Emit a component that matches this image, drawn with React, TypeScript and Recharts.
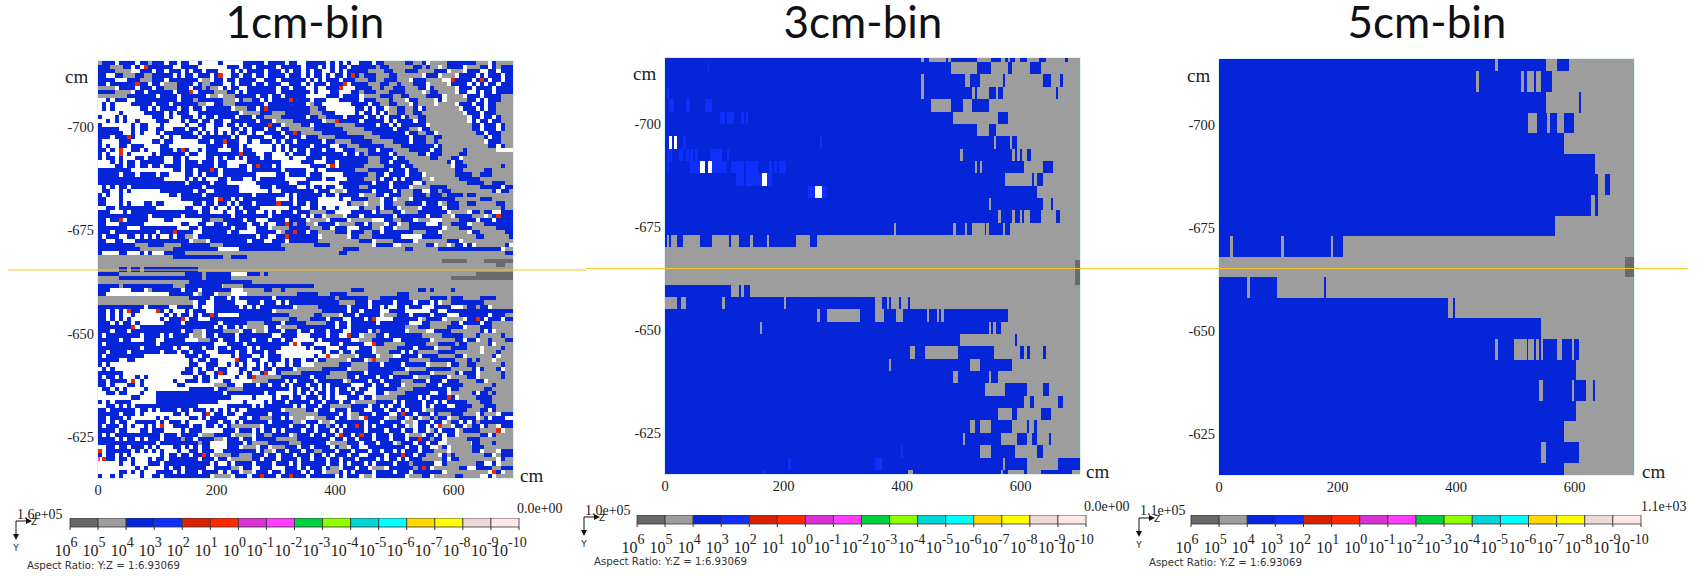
import { Bar, BarChart, ReferenceArea, Scatter, ScatterChart, XAxis, YAxis } from 'recharts';

// colours of the dose scale
const BLUE = '#0625d8';
const BRIGHT = '#0f30fa';
const GRAY = '#9c9d9c';
const DARK = '#6b6b6b';
const RED = '#e82c00';
const MAGENTA = '#ff3cff';
const WHITE = '#ffffff';

const xTicks = [0, 200, 400, 600];
const yTicks = [-700, -675, -650, -625];
const xDomain = [0, 700];
const yDomain = [-716, -615];

const bandColors = ['#686868', '#9c9d9c', '#0625d8', '#0f30fa', '#d92300', '#ff2a00', '#d933d6', '#ff3cff', '#00d040', '#90ff00', '#00d6d6', '#00ffff', '#ffd800', '#ffff00', '#eed9d9', '#ffe8e8'];
const bandExponents = [6, 5, 4, 3, 2, 1, 0, -1, -2, -3, -4, -5, -6, -7, -8, -9, -10];

// 1cm-bin: one string per cm row, one char per 7 cm column (. empty, b blue, g gray, d dark)
const grid1cm = [
  'gbbb.bbbb.bbgbbb.bb.bb..b....b.....bbbbb.bbbb.bb..bbbbb.b.b.b..bbb.bbgggggbbggb.ggggbbbbbbbggg.bggg',
  'bbbgggbb.b.bbbbbbb..bbbb.......bbb.bb.bbbbb.bbbbb.bbb.b.b.bb.bbbbbbgbbggggggbbgbgg.gbbbb.gggbb.bgbb',
  'bbbbgggg..bbb.bb.bbb.b.bb.bbb...b.b.bbbb.bbb.b.bb.b.bb..b.b.bbbbbggggbbgggbbbggggbbb.ggg.bbb..bb.bb',
  'bb..bbgggbbggbbbbb.b.bb.bbb.bb..bb.bb.bb.bbbb.bbb.b.bb.b.bb.bbbgbbbgggbbgggggg.bbb.ggg.bbbb.b.bbb.b',
  'bbbb...bbbgggbbb.bbbbbbb.gg.bb.bb.bbbb..bbb.bbbbbb.b.b.bbb.bbbgggbbggbbbggg.bbbgggg..bbbbb.bbb.bb.b',
  'bb.bbbbbbbbb.bb.gggbbbb.bggbbb..b.bbb.bb.bbb..bbb.b.bbb.bbbb.bbbbgggbbggbgggbbb.gggg.bbbb.b.b.bb.bb',
  'gggg.bbbb.bbb.bbgggbbb.bbgbgg.b.bb..bbbbbbb.bb.bbb..b..bbbb...bbbbggbggbbbgggbb.bggggg.bbb.bbbb.bbb',
  'bbbbgggg.bb.bbbbbb.bbbb.bbbbgggbb.b.bbbbbbb.bbbbbbb.b...bb...bbgbbbgggbbbbgggg.gbbgggg.bb..b.bb.bbb',
  'gggggggbbbbbbb.bbbb.bbbbbb.gg.gggbbbbb.bb.bb.bbbbb.....bbb.bbbb.ggggbbbggbbggggbbbb.gggg.bbb.bbbbgg',
  '..b.bbb..bbbbbbbbbb.bbbgbbbbbbggg.bggbb.b.bbbbbbbbb.bbb...bbbbb.bbbgggbggg.bbgggg.b.gggggbb.b.bbbgg',
  '.b.b....bbbbb.bbb.bbbbbbgg..bbgggbbbbbbb.bbbbbbbbb.gbb.......bbbb.bbggbbggg.bgggg.gggg.bbb.bb.bbggg',
  '.b.b......bb.b.bbbb.bb.bb.bbbbbb.gggbb.bbbbbbbbbbbbggbb.......bb.b.bb.ggbbggb.bgggggggg.bbb.b.bbggg',
  '.....b.....bbbbb.b.bbb..bbbbbbbbbb.ggggbbbgggbbbbbbgggbbb.....b.bb.b.bggbbggbbgggggggggg.bbb.bbbggg',
  'b...b.b......bbb.b..bbb.b.bb.bbbb.bbb.bbggggbbbbbb.bbggbbbb.bbbb.bb.b.bbb.bggbbgggggggggg.bb.bb.bgg',
  '..b.b.b..b....bbb...b.bb.bb.bb..bbbbbb.bbb.ggggbbbbbbb.gggbbbbb.bbbbb.b.bbbb.bbgggggggggg.b.bb.bbgg',
  'b.......b.bb...b.....b..bb..bb.bb.b.bbbbbbbb.ggggbb.bbbbbgggggbbbbb.bb.b.bbbbbb.ggggggggggbb.bbb.bg',
  'bbbbb...b.bb..bb..bbb.bb.b..b...bb.b.bbb.bb.bbggggggbbbbbbbgggggbbbbbbb.bbbgg.bbggggggggggbb.bbb.bg',
  'bbbbbb..b.b...b.bbbbbbb.b.b.b.b.b.bb.b..bbbb.bbbbgggggbbbbbbggggggbbbbbbbb.bbggbb.gggggggggbb.bbbgg',
  'bbb.bbb.b......b.b..bbbb.bbbbbbb.b..bbbb..bbb.bbb.bbbggggbbbbbbbggggbbbbbbb.bbbggbbggggggggggb.bbgg',
  'b....bbb.....bb.bb......bbb.bbbbbb..b..bbb.b.bb.bbbbbb.bbggggbbbbbgggggbbbb.bbbggbggggggggggg.bbbgg',
  'b.b..bb.bbb....bb.........bbbb.bbb.b......b.b.bbbbb.bbbb..bbgggbbbbbbggggbbbbbbbb.bgggggggggggbb.bg',
  'bb.b.b..bb.b...bbb.bbb..b.bbb...bb.bb.....b.b.b.bb.bbb.bb..bbbgggbb.bbbggggbbbbb.bbgggggbggggggg...',
  'b.b..b.b.....b.bbbbbb.bb..bbbbbbbbbbbb..bb...b.bbb.bbbbbbbb.bb.bgbbbbb.bgggggbb.bbbggggbbgggggggggg',
  'b.bb.b...bb.bbbb..bb.b....bb.b.bb.b.bbb.bb....b...bbbb.bbbbbbbbbbgggbbb.bbggggggbbgggbb.gggggggggggg',
  '...b.b.bb.bbbbbb..bb.bbb.bbb.bb.....bbbbbbbb.....bbb...bb.bbbbbbbgggbb.bbbbgggggggggb.bbgggggggggggg',
  '....bb.bb.bb.bb.bbbb.bbbbbbb.bb...bb.b.bbb.b.......bbbb...bbbbbbgggggbbbb.bbggggggggg.bbbggggggggbgg',
  'bbbbbbbb..........bb.bb.bbb.b.bbbbbb.bbbbbbb.bbbbb..b..bbbbbbbgggbbbbb.bbb.bbgggggggggbbgggggbbggggg',
  'bbbbb.bbb.bbbb.bb....bb.b.bbb.bbbbbbbb.....bb.bbbb.bbb.....bbbbbbggbb.bbbb.bbb.gggggggbbbbggbbbgggg',
  'bbbbbbbbbbbbbbbb.....b.b.b...bb.bbb..b.bbbbbb.....bbbb.bb...bbbbgggb.bb.b.bbbbgg.ggggggbbbbbgggggggg',
  'bbbbbbbbbbbbbbbbbbbbb.bbbbb.bbb.......bbbbbbbb..bbb.......bbbbbbbb.bbb.bbbbb..bggggggggggbbbbggbbbgg',
  '.b.b.bb.bbbbbbbbbbbbbbbbb.bbbbbbbb.....bbb.bbbbb..b.bb.bb..bbbbggbbbbb.bbbb.ggggbbbbggggggggbbbbb.bb',
  '.bb..b.b.......bbbbbbbb.bb..bbbbbb.......b..bbbbbbbb.bbb.gg.bbbbbb.bbbb.bgggbb..bbgbbggggggggggb.bbg',
  'b.b..b...........bb.bbbbb.bbbbbbbbbbb.bbbbbbb.b.bbbbbb.bb.bbbbb.gggbb.bbbgggbbbgbbbgbbbbgbbgggggggg',
  'bb...b..............bbbbbbbb.bbb.b.bbbbbbbb...b.bbbbb.....b..bbbbggg.bb.ggg.bbbbbbbbbbggggggbbbgggg',
  'bb...b.b...bb.bb.......bb.bb.bb.b.bbb.bbbbbbbbb.bb.bb.......bggg.ggg.bbgggbbbb.bbb.gbbbggbbgggggbbg',
  '..bb.bbbbbbbbb.......bb..bb.b..b.b.bbbb.......bbb..bb.b..b.....bgggb.bbb.gggg.bbbbb.bbbggggggggggbg',
  'bbb...b.bbbbbbbbbbbbbbbb.bb...b..bb.bb..b.b.bbb.bbbggggbb....bbbbb.bgggbb.gggbbbbbbb.gggg.bbgbb..bb',
  'bbbbbbbbbbbb.bbbbbbb.bbbbbbbbbbb.bbbbbbbb.bbbbbbb.b.bb.gggg.bbb.bbbbbbb.bbbbbbb.bbbgg.bbbbggg.gb.bb',
  'bb.bbb.bbbbb....bb.......bbgggbbbbb.bb...bbbb.bbbb.gggg.bbbb.ggggg...bbggbbb.ggg...ggggbbbb.bbb.bbbb',
  'bb...bbbbbb.........bb..bb..bb.bbbbb.bb.b..bbbbgbbgg.bbbb.ggggbb.bggg.bb.ggbbbb...bggbbbb.gggbbbbbbb',
  'bbbbbbb...bbbbbbbbb...bb.bbbbbbb.bbb..bbb.ggggbbbbbgggbb.bbb...bbbgg.bb.gggbbbbbbbb.gggbbbggggggbbbb',
  'bbb.bbbbbbbbbb.bbbbbbbb..bbbbbb.bb....bbbbb.gbbbbb.bbggggbbb.bbbggbb.bbbbbbbgggbbb.gggggg.bbggggggbbb',
  'b.bbb..bb.b.b.b..b.bbgg.bbbbbbbbbbbbbb.bb..bb.bbbbbbb.gggggg.bbgggbbbbbbb.....bbbbbggggggggbbggggggbb',
  'bb..bb...bbbbbbbbbbbbb.ggg.bbbbbbbbb.bbb..bbb.bbbbbbbggggggggggbbb.ggggbbbbb.gggggggbbb.gggggggggggg',
  'bbbbbbbbbgggbbbbggggbbbbbbbgggbbbbbbbbbbbbbbggggggggbbbbgggggggggg.bbbb..ggggggbb.gg.gbb.b.gggggggb.',
  'bbbbbbbbbbggggggggbbbbbbbbbbb.....bbbbbbbbbbbggggggggggggggbbbbgggggggggggbbggggggbbbbbbbbbbbbbbb.gg',
  'b....bb...b.b...bbbbbgggggggggggggggggggggggggggggggggggggbbggggggggggggggggggggggggggggggggggggggbb',
  'ggggggggggggggggggbbbbbbbbbbbbggbbbbgggggggggggggggggggggggggggggggggggggggggggggggggggggggggggggggg',
  'gggggggggggggggggggggggggggggggggggggggggggggggggggggggggggggggggggggggggggggggggggddddddggggddddddd',
  'ggggggggggggggggggggggggggggggggggggggggggggggggggggggggggggggggggggggggggggggggggggggggggggggggddgg',
  'gggggbbgbbgbbbbbbbbbbbbbgggggggggggggggggggggggggggggggggggggggggggggggggggggggggggggggggggggggggggg',
  'bbbbbggggggggggggggggbbbbgbbbbbb....bbbgbggggggggggggggggggggggggggggggggggggggggggggggggggdddddddd',
  'gggggbbbbbbbbbbbbbbbbbbbbgbbbbbbgggggggggggggggggggggggggggggggggggggggggggggggggggggdddddddddddddddd',
  'ggggggggggggggggggggggbbbbbbbbbbbbbbbggggggggggggggggggggggggggggggggggggggggggggggggggggggggggggggg',
  'bbbbbgbbbbbbbbbbbbgggbbbbbbbbbgggggbbbbbbbbbbbbbbbbbggggggggggggggggggggggggggggggggggggggggggggggg',
  'bbb.....bbb.gbbbbbbb.bbb.bbbbbbb...gggggbbggbggggggggggggggggbbbgggggggggggggbbgbggggbggggggggggggg',
  'bb...............bbbbbb.gbbb.ggg....ggggggggggggbbbbbgggbbbbggggggggggggbbbgggggggggggggggggggggggg',
  'ggggggggggggggggggggggbbbbb.bbb.b.bbbbbbbb.bbbbbbbbbbbbbbgbbbbbbbgggbbbbbbbgggggbbbbgbbbggggbbbbgggg',
  'ggggggggggggggggggggggg.bb..bbbbb...bbb.bbb.b.bbbbbbbbbbbbggggbbb.bbbbb.bbbb.bbb.b.ggbbbbbbbbgggggg',
  'bbbbbbbbbbb.bbbbb..bbbb.b...bbbbbb.b.b.bbbbbbbb.gggggbbbbbbb.bbbb.bb.b..bb.bbb...bbbb...gbbgbb.gggg',
  'bb.b.b..bb.....b.b...b.bbb..bbbbbbbbbbbbbb.gggggggggggbbbbbb.bb.bbbb..bbbb......bb..bbbbbbbbbbbbbbb',
  'bb.b.b..b.......b.b.bb.b.bbbb.....bbbbbbbbbbbbggggggbbgggg.bbb.bbbbb.gggbbb.bbbb.bbb...bbbbbbb.bbbg',
  'bb.b.b.b.......b.bbbb.bb...bbbbbbbbbbbbbbbggggbbgggbbbb.bbb..bbb.bb....bbbbbb.gbbbb.gggg.bbbb.bbb.bb',
  'bbb.b.bb.b......bbbb.bbbbbbbb.bbbbbbggggbbbb.bbbbbgggggbb.bb.bbbbbb.bbbbbbb...bbgggggbb.bbbb.bbgggg',
  'bbbbbbbbb.bbbbbbbbbbbbbbbbbb.b.bb.b.gggg.bb.ggggbbbbbbbbb.bb.bbbbbbbbbbbbbgggbbbggggbbbb.gggbbbgggg',
  'bbb.bbb.bbbbbbbbbbbb.bbgg.bbbbgggg.bb.gg.bbb.bbb.bb.bbb.bbb..bbbb.bgbbbbbb.gggg..bbbbgggggggb.b.ggg',
  'b.bbbbbbbb.bbbb.b.bbbb.gg.bb.bbbb.bbbbbbbb..bbbb...bbbb.bb...bb.gggbb.bbbbbbbbgggggbbbbbgggbgggggbg',
  'bbbbb.bb...bbb..bbbbb...gggbb.bbb.bbb.bbb.bb.bb.....b.bbbbbbb..gggbbbbb..bbbbbbb.gggggbb.bb.ggbgggb',
  'b.bbbbbbbbbbbb.bbbbbbbbbbbbb...bbbb.bbbbbbbbbb...bbb....bb.bbbbb...bbgggggbbbbbgggbbbbgbbgggggb.ggg',
  'bbbbbbbbbb.bbbbbbb.b..bbb.bb.bb.bbbb.b.bbbbb......b.bbb...bb...bbb.gggggbbbb.bbbb.gggbbbbggg.ggggbgg',
  'bb.bbbb.bbbbbbb.bbb.bb.bbb...bbbb.bb.bbb.bb...........b.bb.bb.bbbb.gggbbb.b.bgggggbbbbgggggg.gggbggg',
  'b.bbbbbbbbb..........bbb.bb.....b.bbb..b.bbb........b.....gggg.bbbb.ggg..bbbb.bbbbggggbb.ggggggb.ggg',
  'bbbbb..bb.............b.bb.bb....bbb.bb..bbb.b.bb.bb.bbggggg.bbb.gggggbbbbbgggggbbbbbbgggbgbggg.gggg',
  'b.b...................bb..bbb..b.b.b..b.b.b..b.bb...ggggggbbbggggbbb.bbbb.bbbbb.gggg.bbggbbggggggbgg',
  '.b.b.................bb.b.bb.bb...bb.bb.bb.bbbb.ggggggbbbbbb.ggggbbbbbbbbb.ggggbbbbbbgggggb.bgggb.gg',
  'bbbbbb..............bbb.bb..b.b...b.b..bb..bgggggbbbbbbbggggbbbb.bbbbbbggggbbbbb.gggggb.bbb.gggggbgg',
  'b.bb.b...b.b...........b.bb.b....b..b.ggggggbbbbbbb.bbbgggggbb.bbbb.bb.bbbbb.gggbbbb.ggggbb.gggggbg',
  'bb.bbbb.b.b.......b..bbb.bb...bb.....ggggbbbb.b.bbbb.bbbbbb.gbbbb.bb.bbbbgggbbb.bbb.bbbggggbb.ggggg',
  'bb.b...bb.b........bb.......gggbb..bbb.bb.bb.b.bbb.bb.b.bbbbb...bb.bb.bbb.gggggbbb.bbbbbgggggggbggg',
  '.bb.b.b....b..........bbbbbb.bbggggbbbbbbbbbbb.b.bb.b.b.b.bb.b.bb..bbbbbggggbbbbbbbb.bbggggggbbggg',
  '..bb.bb...b...bbbbbbbbbbbbbbbb.bbbbbbbbb.bb....b.b.b.bb.b.bbb.bb...bb.ggggbbbbbb..bb.gggggb.bbgbggg',
  '........bb....bbbbbbbbbbbbbbbbbb.....b....b.bb.bb.bbb.b.b...bbb.bb.gggggbbbbb.b.bbbb.b.ggggbbbbgggg',
  'b.b.bbbb......bbbbbbbbbbbbbbb......b....b.bbb.bbbbb.bb.bbb.bb.gggggbbbb.b.bbbb.bb.b.bbbbbgggbbbggg',
  '..bb.b.b.bbbbbbbbbbbbbbb.......bbbbbb.b.bbbbbbb.b.bbb.bbgggggbbbb.bb.b.bb.bbbb.b.bbb..bbbbgggbbbggg',
  'bb.bbbbbb.bb.b.bbbb.bb.bbb.b.b.b.b..bbbbbbbb.gggggbb.bbb.bbb.bbb..bbb.bb.b.bbb.ggbbbbbbbbgggbb.bgg',
  'bbbbb.bbb.b.......bb.b...bb.bb.bb..bbbbbb.bbbbgggggggbbbbb.b.ggbbb.bbb..b.bb.bbb.bgggbbbggg.bggg.bb',
  'bb.bbb.b......b.b.....bb.b.bbbb...bb.bbgggbb.b.ggg..gggbb.bb.gg.bbbbb.ggbb.gb.ggbgbb.ggbbbb.gb.bbb.',
  'bb.b.bb..bbbbb.b.bbb.b....bbb.bb.b.bbbbbb.bbbbbgg.bbb.gg.bbbbbbb.bbb.bbbb.gg.bbb.bb.gbb.b.bgbbbbbb',
  'b.bbb.b.b..b.b.b..bbbb.bb.bb.b.bggggggg.bbbbbb.bbb.b.bbgb.b.bbbb.b.bbbb.bb.g.bb.b.bgg.bb.gbb.bgg.bb',
  'bbbb.bb...bb.bbb....b.bbb.....bbb.bbb.b.bb.b.bbbb.bb.bbb.b.bbbbb.bbbb.bbb.bb.bb.gb.bbb.gbbbbggggb.g',
  'b.b.bbbbbbbbbbb.bbb.bbbb.gggbbbb.gggg.bbggbbbb.gbbb.bb.bb.bbb.bbbb.bbb.bbb.ggg.bb.b.bb.gggggbb.bggg',
  'bbbb.b.bb.b.bbb.bbbbgbb.bbbbgg.bbb.bb.bbbbbgggggbbbbbbbb.bb.bb.bbb.bbb.bbb.bb.bbgbb.gggggbbbgggggg',
  'bbbbbbbbbbbbbb.bbbbbbbbbgbb....bbbb.bggggbbbbbgggbbbbbb.ggggbbb.bbb.bbb.gbbb.bb.bb..ggggggbbgggbggg',
  '..bb.bb.bbb.b.b...bb.b.b.bb....bbb.ggg.bb.gggbbb.bb.bbbb.bgg.bb..bbbbbbbbb.bb.bb..gb.gggggbbbgggggg',
  'b.bbbbbb.b.b.b.b...b..bb.bbb..bbbbbbbb.bgg.bb.bbb.bbggbbb.bbb.bbb.bb.bb.b.bbb.bbbggg.gggggbb.ggg.bb',
  'b.bb.b.b.......b.bb.bb.bb.b.ggggbbgggbbb.bb.bbb.bbb.bb.b.bbb.bb..bbbb.bbb.bb.bbggg.bgbgggggggbb.gbb',
  '.bbb.bb.b...b.bb.bbbbbbb.bbb.bb.gggggbb.bbb.bbbb.bb.bbb.bb.bbb.bbbb.b.bb.b.bbbgggggb.bbggggggggg.bg',
  '.....b..b...bbb.bbbbbbbbbbb.b..b.bbbb.bbbb.bbb.b.bbbbbb.bb.b.bbb.b.bbbb.bbbgbbbbb..bgggggggbb..b.gg',
  '.........b.b....b.bb.bbbbb..bbbbgg.bb..bbb...bbb.b.bbb.bgg.bbb.bb.ggg.bbbbbbgbbb.ggggggbb..bbbbggbb',
  '.....bb.b.b...bbbb.b.bbb.bbbb.b.bb.gg.bbb.bb.bbbb.b.bb.gggb.b.bbbb.bbbb.bbb.bbbbbbb.gggggggggg.bb.g',
  'b..b.b....b..bb.bbbbbbbbbbb.gggg.bbb.bbbbbb.bb.bbb.bbbbbb.b.bbb.gg.bbbbbbb.gggbb.gggggbbgggg..b.ggg',
  '.....b.b..b..bbbbbb.bbbbbb.gggbb.gggbbb.bbbb.bb.bbbbbb.gg.bbbbbbb.ggg.bbbbb.ggggggggbb.bb..b..bgggg',
];

// red cells of the 1cm grid, [row, column]
const red1cm = [[1, 11], [3, 29], [3, 61], [4, 85], [4, 92], [5, 9], [5, 59], [6, 58], [7, 22], [9, 46], [11, 40], [14, 57], [15, 41], [17, 47], [18, 7], [19, 30], [21, 5], [21, 20], [22, 5], [22, 34], [25, 38], [25, 56], [26, 27], [33, 29], [34, 43], [37, 96], [38, 5], [39, 45], [41, 18], [41, 47], [42, 45], [60, 7], [60, 14], [61, 27], [62, 20], [62, 66], [62, 91], [64, 8], [66, 60], [68, 47], [68, 66], [71, 55], [72, 33], [72, 66], [75, 29], [75, 40], [76, 37], [77, 8], [81, 84], [85, 26], [85, 73], [86, 64], [88, 15], [88, 62], [88, 82], [89, 96], [90, 58], [90, 63], [91, 77], [94, 0], [95, 25], [95, 73], [96, 1], [98, 78], [99, 95], [100, 39], [100, 46]];
const magenta1cm = [[96, 0]];

// 3cm-bin: row edges, then blue spans per row as start,end pairs in cm (rest of the row is gray)
const edges3cm = [-716, -715, -712, -709, -706, -703, -700, -697, -694, -691, -688, -685, -682, -679, -676, -673, -670, -667, -664, -661, -658, -655, -652, -649, -646, -643, -640, -637, -634, -631, -628, -625, -622, -619, -616, -615];
const blue3cm = [
  [0, 432, 437, 445, 474, 478, 482, 527, 550, 566, 574, 578, 582, 590, 598, 610, 630, 643, 675, 679],
  [0, 482, 527, 550, 578, 586, 615, 635],
  [0, 432, 437, 506, 514, 531, 570, 574, 638, 651, 667, 671],
  [0, 432, 437, 518, 523, 527, 547, 559, 562, 570, 659, 663],
  [0, 449, 482, 502, 518, 547],
  [0, 486, 562, 578],
  [0, 527, 547, 559],
  [0, 555, 559, 582, 586, 594],
  [0, 498, 502, 586, 590, 594, 598, 602, 610, 618],
  [0, 523, 527, 531, 535, 606, 638, 655],
  [0, 574, 619, 623, 627, 638],
  [0, 627],
  [0, 547, 550, 638, 651, 655],
  [0, 562, 566, 586, 590, 598, 602, 606, 615, 635, 659, 667],
  [0, 386, 390, 486, 490, 506, 510, 518, 539, 542, 546, 570, 574, 582],
  [0, 3, 6, 10, 20, 31, 59, 80, 108, 112, 125, 144, 148, 172, 176, 221, 245, 257],
  [],
  [],
  [],
  [0, 112, 125, 129, 133, 144],
  [20, 27, 35, 96, 101, 200, 204, 354, 366, 374, 378, 382, 394, 398, 410, 414],
  [0, 257, 261, 274, 329, 354, 370, 390, 402, 442, 446, 458, 462, 466, 470, 578],
  [0, 160, 164, 547, 550, 554, 559, 566],
  [0, 498, 590, 594],
  [0, 414, 421, 438, 494, 555, 598, 606, 610, 615, 638, 643],
  [0, 378, 382, 514, 531, 586],
  [0, 486, 494, 547, 550, 562],
  [0, 539, 574, 610, 638, 647],
  [0, 606, 615, 623, 663, 671],
  [0, 562, 586, 594, 634, 651],
  [0, 514, 523, 531, 550, 586, 610, 614, 623, 627],
  [0, 502, 506, 566, 594, 610, 619, 627, 648, 651],
  [0, 531, 550, 590, 627, 638],
  [0, 570, 574, 610, 663, 700],
  [0, 410, 418, 566, 570, 578, 606, 610, 634, 687],
];
// [row, start, end]
const bright3cm = [[1, 73, 75], [3, 4, 7], [4, 6, 15], [4, 35, 43], [4, 67, 80], [5, 93, 101], [5, 105, 116], [5, 129, 133], [5, 137, 140], [7, 31, 35], [7, 262, 265], [8, 4, 12], [8, 23, 31], [8, 35, 40], [8, 43, 47], [8, 51, 55], [8, 76, 96], [8, 104, 108], [9, 4, 6], [9, 43, 59], [9, 80, 105], [9, 112, 133], [9, 137, 157], [9, 176, 180], [9, 184, 189], [9, 193, 204], [10, 120, 133], [10, 137, 164], [10, 172, 180], [11, 242, 253], [11, 265, 274], [32, 398, 402], [33, 208, 212], [33, 354, 366], [34, 164, 168]];
const white3cm = [[7, 6, 11], [7, 15, 20], [9, 59, 68], [9, 72, 80], [10, 164, 172], [11, 253, 265]];
const dark3cm = [[17, 691, 700], [18, 691, 700]];

// 5cm-bin, same layout as the 3cm one
const edges5cm = [-716, -713, -708, -703, -698, -693, -688, -683, -678, -673, -668, -663, -658, -653, -648, -643, -638, -633, -628, -623, -618, -615];
const blue5cm = [
  [0, 465, 470, 551, 570, 590],
  [0, 433, 438, 510, 514, 519, 531, 535, 543, 562],
  [0, 551, 607, 611],
  [0, 522, 536, 554, 559, 570, 582, 598],
  [0, 582],
  [0, 635],
  [0, 639, 651, 659],
  [0, 627, 635, 639],
  [0, 566],
  [0, 19, 23, 105, 109, 189, 193, 209],
  [],
  [0, 48, 52, 97, 177, 181],
  [0, 386, 394, 398],
  [0, 543],
  [0, 465, 470, 497, 519, 522, 531, 534, 539, 543, 547, 570, 578, 595, 598, 607],
  [0, 603],
  [0, 539, 547, 595, 598, 619, 631, 635],
  [0, 603],
  [0, 582],
  [0, 543, 551, 607],
  [0, 582],
];
const dark5cm = [[10, 684, 700]];

type Cell = { x: number; y: number; w: number; h: number };

const gridColors: Record<string, string> = { '.': WHITE, b: BLUE, g: GRAY, d: DARK };

// run-length the 1cm grid so each colour is one Scatter
function gridCells(rows: string[]) {
  const out: Record<string, Cell[]> = { [WHITE]: [], [BLUE]: [], [GRAY]: [], [DARK]: [], [RED]: [], [MAGENTA]: [] };
  rows.slice(0, 101).forEach((row, r) => {
    const line = row.slice(0, 100).padEnd(100, row[row.length - 1]);
    let start = 0;
    for (let c = 1; c <= 100; c++) {
      if (c === 100 || line[c] !== line[start]) {
        out[gridColors[line[start]]].push({ x: start * 7, y: yDomain[0] + r, w: (c - start) * 7, h: 1 });
        start = c;
      }
    }
  });
  red1cm.forEach(([r, c]) => out[RED].push({ x: c * 7, y: yDomain[0] + r, w: 7, h: 1 }));
  magenta1cm.forEach(([r, c]) => out[MAGENTA].push({ x: c * 7, y: yDomain[0] + r, w: 4, h: 1 }));
  return out;
}

function spanCells(edges: number[], blue: number[][], bright: number[][], white: number[][], dark: number[][]) {
  const span = ([r, s, e]: number[]): Cell => ({ x: s, y: edges[r], w: e - s, h: edges[r + 1] - edges[r] });
  const blueCells: Cell[] = [];
  blue.forEach((row, r) => {
    for (let i = 0; i < row.length; i += 2) blueCells.push(span([r, row[i], row[i + 1]]));
  });
  return {
    [GRAY]: blue.map((_, r) => span([r, 0, 700])),
    [BLUE]: blueCells,
    [BRIGHT]: bright.map(span),
    [WHITE]: white.map(span),
    [DARK]: dark.map(span),
  } as Record<string, Cell[]>;
}

const Y_AXIS_W = 50;
const X_AXIS_H = 30;
const serif = '"Liberation Serif", serif';
const sans = '"DejaVu Sans", sans-serif';

function HeatPanel({ px, py, pw, ph, cells }: { px: number; py: number; pw: number; ph: number; cells: Record<string, Cell[]> }) {
  const kx = pw / (xDomain[1] - xDomain[0]);
  const ky = ph / (yDomain[1] - yDomain[0]);
  const cellShape = (fill: string) => (p: any) => {
    const { w, h } = p.payload as Cell;
    const left = Math.round(p.cx);
    const top = Math.round(p.cy);
    return <rect x={left} y={top} width={Math.round(p.cx + w * kx) - left} height={Math.round(p.cy + h * ky) - top} fill={fill} shapeRendering="crispEdges" />;
  };
  return (
    <div style={{ position: 'absolute', left: px - Y_AXIS_W, top: py - 5 }}>
      <ScatterChart width={pw + Y_AXIS_W + 30} height={ph + X_AXIS_H + 5} margin={{ top: 5, right: 30, bottom: 0, left: 0 }}>
        <XAxis type="number" dataKey="x" domain={xDomain} ticks={xTicks} height={X_AXIS_H} tickLine={false} axisLine={false} tickSize={0} tickMargin={7} allowDataOverflow interval={0} tick={{ fontFamily: serif, fontSize: 14.5, fill: '#222' }} />
        <YAxis type="number" dataKey="y" domain={yDomain} ticks={yTicks} width={Y_AXIS_W} reversed tickLine={false} axisLine={false} tickSize={0} tickMargin={4} allowDataOverflow interval={0} tick={{ fontFamily: serif, fontSize: 14.5, fill: '#222' }} />
        {Object.keys(cells).map((fill) => (
          <Scatter key={fill} data={cells[fill]} fill={fill} shape={cellShape(fill)} isAnimationActive={false} />
        ))}
        <ReferenceArea x1={xDomain[0]} x2={xDomain[1]} y1={yDomain[0]} y2={yDomain[1]} fill="none" stroke="#d6ebf5" strokeWidth={1.5} ifOverflow="visible" />
      </ScatterChart>
    </div>
  );
}

const bandRow = [Object.fromEntries(bandColors.map((_, i) => [`b${i}`, 1]))];

const ExpTick = (p: any) => {
  const exp = bandExponents[p.payload.value];
  const shift = exp >= 0 ? 15.5 : exp === -10 ? 27 : 20;
  return (
    <text x={p.x - shift} y={p.y + 24} fontFamily={serif} fontSize={16} fill="#222">
      10<tspan dy={-9} fontSize={14}>{exp}</tspan>
    </text>
  );
};

function ColorBar({ bx, by, bw, bh }: { bx: number; by: number; bw: number; bh: number }) {
  return (
    <div style={{ position: 'absolute', left: bx - 30, top: by }}>
      <BarChart width={bw + 60} height={bh + 36} data={bandRow} layout="vertical" barCategoryGap={0} margin={{ top: 0, right: 30, bottom: 0, left: 30 }}>
        <XAxis type="number" domain={[0, 16]} ticks={bandExponents.map((_, i) => i)} interval={0} height={36} tick={<ExpTick />} tickSize={3} tickLine={{ stroke: '#333' }} axisLine={false} />
        <YAxis type="category" hide />
        {bandColors.map((c, i) => (
          <Bar key={c} dataKey={`b${i}`} stackId="scale" fill={c} stroke="#333" strokeWidth={0.8} isAnimationActive={false} />
        ))}
      </BarChart>
    </div>
  );
}

const titles = [
  { label: '1cm-bin', x: 305 },
  { label: '3cm-bin', x: 863 },
  { label: '5cm-bin', x: 1427 },
];

const annotations = [
  { max: '1.6e+05', maxX: 17, maxY: 519, min: '0.0e+00', minX: 517, minY: 513, triX: 16, triY: 521, aspectX: 27, aspectY: 569, cmYX: 65, cmYY: 83, cmXX: 520, cmXY: 482 },
  { max: '1.0e+05', maxX: 585, maxY: 515, min: '0.0e+00', minX: 1084, minY: 511, triX: 584, triY: 517, aspectX: 594, aspectY: 565, cmYX: 633, cmYY: 80, cmXX: 1086, cmXY: 478 },
  { max: '1.1e+05', maxX: 1140, maxY: 515, min: '1.1e+03', minX: 1641, minY: 511, triX: 1139, triY: 518, aspectX: 1149, aspectY: 566, cmYX: 1187, cmYY: 82, cmXX: 1642, cmXY: 478 },
];

const orangeLines = [
  { x1: 8, x2: 586, y: 270 },
  { x1: 586, x2: 1085, y: 268.5 },
  { x1: 1085, x2: 1688, y: 268.5 },
];

const cells1 = gridCells(grid1cm);
const cells3 = spanCells(edges3cm, blue3cm, bright3cm, white3cm, dark3cm);
const cells5 = spanCells(edges5cm, blue5cm, [], [], dark5cm);

export default function App() {
  return (
    <div style={{ position: 'absolute', left: 0, top: 0, width: 1702, height: 576, background: '#fff', overflow: 'hidden' }}>
      <HeatPanel px={98} py={61} pw={415} ph={417} cells={cells1} />
      <HeatPanel px={665} py={58} pw={415} ph={416} cells={cells3} />
      <HeatPanel px={1219} py={59} pw={415} ph={416} cells={cells5} />
      <ColorBar bx={70} by={518} bw={449} bh={9} />
      <ColorBar bx={637} by={515} bw={449} bh={9} />
      <ColorBar bx={1191} by={515} bw={450} bh={9} />
      <svg width={1702} height={576} style={{ position: 'absolute', left: 0, top: 0, pointerEvents: 'none' }}>
        {titles.map((t) => (
          <text key={t.label} x={t.x} y={38} textAnchor="middle" fontFamily="Lato, sans-serif" fontSize={44} fill="#111">{t.label}</text>
        ))}
        {orangeLines.map((l) => (
          <line key={l.x1} x1={l.x1} x2={l.x2} y1={l.y} y2={l.y} stroke="#f6c22e" strokeWidth={1.2} />
        ))}
        {annotations.map((a) => (
          <g key={a.aspectX}>
            <text x={a.cmYX} y={a.cmYY} fontFamily={serif} fontSize={19} fill="#222">cm</text>
            <text x={a.cmXX} y={a.cmXY} fontFamily={serif} fontSize={19} fill="#222">cm</text>
            <text x={a.maxX} y={a.maxY} fontFamily={serif} fontSize={14} fill="#222">{a.max}</text>
            <text x={a.minX} y={a.minY} fontFamily={serif} fontSize={14} fill="#222">{a.min}</text>
            <path d={`M${a.triX} ${a.triY + 14}V${a.triY}H${a.triX + 12}`} fill="none" stroke="#111" strokeWidth={1} />
            <path d={`M${a.triX - 3} ${a.triY + 13}H${a.triX + 3}L${a.triX} ${a.triY + 19}Z`} fill="#111" />
            <path d={`M${a.triX + 10} ${a.triY - 3}V${a.triY + 3}L${a.triX + 16} ${a.triY}Z`} fill="#111" />
            <text x={a.triX + 15} y={a.triY + 4} fontFamily={sans} fontSize={9} fill="#222">Z</text>
            <text x={a.triX} y={a.triY + 30} textAnchor="middle" fontFamily={sans} fontSize={9} fill="#222">Y</text>
            <text x={a.aspectX} y={a.aspectY} fontFamily={sans} fontSize={10.2} fill="#333">Aspect Ratio: Y:Z = 1:6.93069</text>
          </g>
        ))}
      </svg>
    </div>
  );
}
